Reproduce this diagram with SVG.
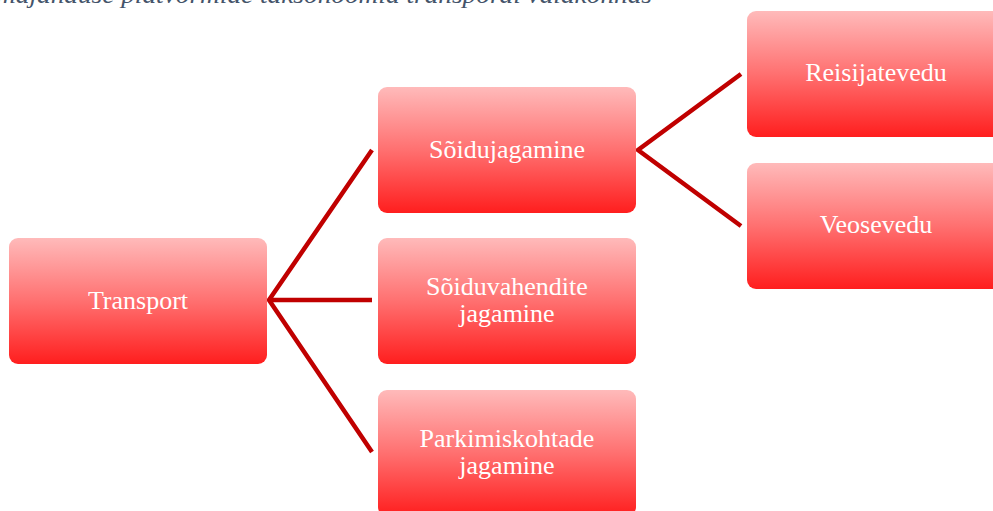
<svg xmlns="http://www.w3.org/2000/svg" width="993" height="511" viewBox="0 0 993 511">
<defs>
<linearGradient id="g" x1="0" y1="0" x2="0" y2="1">
<stop offset="0" stop-color="#ffbaba"/>
<stop offset="0.5" stop-color="#ff7070"/>
<stop offset="1" stop-color="#ff1e1e"/>
</linearGradient>
</defs>
<style>
.box{fill:url(#g);stroke:none}
.t{font-family:"Liberation Serif","Times New Roman",serif;font-size:26px;fill:#ffffff;text-anchor:middle}
.c{stroke:#c00000;stroke-width:4.5;fill:none}
.h{font-family:"Liberation Serif","Times New Roman",serif;font-style:italic;font-size:25px;fill:#44546a}
</style>
<text class="h" x="-4" y="3" textLength="656" lengthAdjust="spacingAndGlyphs">majanduse platvormide taksonoomia transpordi valdkonnas</text>
<g id="connectors">
<path class="c" d="M372,150 L269,300 L372,452 M269,300 L372,300"/>
<path class="c" d="M741,74 L638,150 L741,226"/>
</g>
<g id="transport">
<rect class="box" x="9" y="238" width="258" height="126" rx="9"/>
<text class="t" x="138" y="309">Transport</text>
</g>
<g id="soidujagamine">
<rect class="box" x="378" y="87" width="258" height="126" rx="9"/>
<text class="t" x="507" y="158">Sõidujagamine</text>
</g>
<g id="soiduvahendite">
<rect class="box" x="378" y="238" width="258" height="126" rx="9"/>
<text class="t" x="507" y="295">Sõiduvahendite</text>
<text class="t" x="507" y="322">jagamine</text>
</g>
<g id="parkimiskohtade">
<rect class="box" x="378" y="390" width="258" height="126" rx="9"/>
<text class="t" x="507" y="447">Parkimiskohtade</text>
<text class="t" x="507" y="474">jagamine</text>
</g>
<g id="reisijatevedu">
<rect class="box" x="747" y="11" width="258" height="126" rx="9"/>
<text class="t" x="876" y="81">Reisijatevedu</text>
</g>
<g id="veosevedu">
<rect class="box" x="747" y="163" width="258" height="126" rx="9"/>
<text class="t" x="876" y="233">Veosevedu</text>
</g>
</svg>
